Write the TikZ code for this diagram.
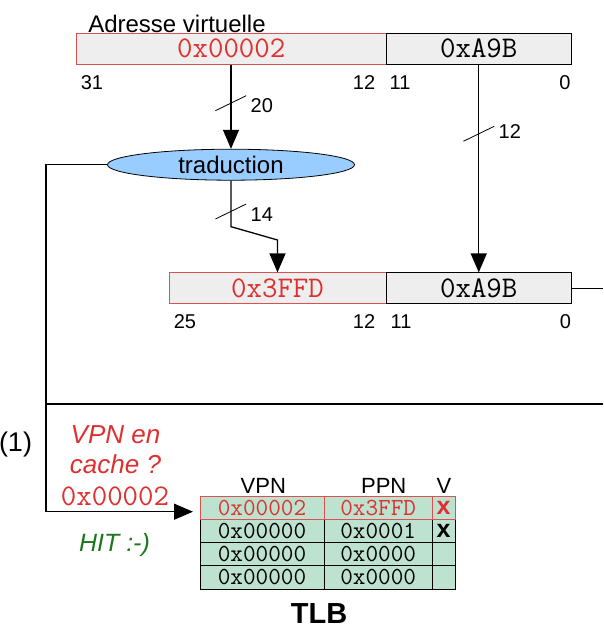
\documentclass[tikz,border=0pt]{standalone}
\usepackage{fontspec}
\setmainfont{Liberation Sans}
\usetikzlibrary{positioning,shapes.geometric,arrows.meta}
\tikzset{>={Triangle[length=19pt,width=16pt]}}

\definecolor{hexred}{RGB}{222,48,48}
\definecolor{boxred}{RGB}{220,80,80}
\definecolor{hitgreen}{RGB}{28,118,28}
\definecolor{fieldgray}{RGB}{238,238,238}
\definecolor{tradblue}{RGB}{153,204,255}
\definecolor{tlbgreen}{RGB}{190,226,208}

\begin{document}
\begin{tikzpicture}[x=1pt,y=-1pt,
  wire/.style={line width=1.3pt},
  slash/.style={line width=0.8pt},
  field/.style={draw,fill=fieldgray,line width=1pt,minimum height=31pt,inner sep=0pt,font=\fontsize{30}{34}\ttfamily},
  bitno/.style={font=\fontsize{20}{24}\selectfont},
  question/.style={text=hexred,font=\fontsize{26}{30}\itshape},
  tlbcell/.style={draw,fill=tlbgreen,line width=1pt,minimum height=23.075pt,inner sep=0pt,font=\fontsize{24.5}{26}\ttfamily},
  head/.style={anchor=base,font=\fontsize{22}{26}\selectfont}]
\useasboundingbox (0,0) rectangle (603,640);

% Virtual address
\node[anchor=base] (title) at (177,32) {\fontsize{24}{28}\selectfont Adresse virtuelle};
\node[field,draw=boxred,text=hexred,minimum width=309.5pt] (vpn) at (231.25,48.8) {0x00002};
\node[field,minimum width=185.5pt] (off) at (478.75,48.8) {0xA9B};
\foreach \x/\t in {92/31,364/12,400/11,565/0}
  \node[bitno] (bv\t) at (\x,82.5) {\t};

% Translation
\node[ellipse,draw,fill=tradblue,minimum width=247pt,minimum height=31pt,inner sep=0pt,line width=0.8pt,font=\fontsize{24}{28}\selectfont] (trad) at (231,164.7) {traduction};

% Physical address
\node[field,draw=boxred,text=hexred,minimum width=217pt] (ppn) at (277.5,288.4) {0x3FFD};
\node[field,minimum width=185.5pt] (poff) at (478.75,288.4) {0xA9B};
\foreach \x/\t in {185/25,364/12,401/11,565.5/0}
  \node[bitno] (bp\t) at (\x,322) {\t};

% Connectors
\coordinate (bend1) at (231,226.7);
\coordinate (bend2) at (277.5,240);
\coordinate (lk) at (46,164.7);
\coordinate (lb) at (46,511.7);
\coordinate (tip) at (193,511.7);
\coordinate (out) at (603,288.4);
\coordinate (sepL) at (46,404);
\coordinate (sepR) at (603,404);

\draw[wire,->] (trad.north |- vpn.south) -- (trad.north);
\draw[wire,->] (off.south) -- (poff.north);
\draw[wire,->] (trad.south) -- (bend1) -- (bend2) -- (ppn.north);
\draw[wire,->] (trad.west) -- (lk) -- (lb) -- (tip);
\draw[wire] (poff.east) -- (out);
\draw[wire] (sepL) -- (sepR);

% Bus widths
\foreach \x/\y/\n/\ly in {230.8/103.2/20/105.5,478.8/133.8/12/132,230.8/211.5/14/214.5}{
  \draw[slash] (\x-15.4,\y+7.5) -- (\x+15.4,\y-7.5);
  \node[bitno] (bus\n) at (\x+31,\ly) {\n};
}

% TLB lookup
\node[anchor=base] (step1) at (15.5,451) {\fontsize{27}{30}\selectfont (1)};
\node[anchor=base,question] (q1) at (115.5,443) {VPN en};
\node[anchor=base,question] (q2) at (115.5,473) {cache ?};
\node[anchor=base,text=hexred,font=\fontsize{30}{34}\ttfamily] (qvpn) at (115,505) {0x00002};
\node[anchor=base,text=hitgreen,font=\fontsize{25}{30}\itshape] (hit) at (114.5,551.5) {HIT :-)};

% TLB table
\node[head] (hvpn) at (263.3,493) {VPN};
\node[head] (hppn) at (383.7,493) {PPN};
\node[head] (hv) at (444,493) {V};
\foreach \r/\a/\b/\c in {2/0x00000/0x0001/x,3/0x00000/0x0000/{},4/0x00000/0x0000/{}}{
  \pgfmathsetmacro\y{496.7+(\r-0.5)*23.075}
  \node[tlbcell,minimum width=124pt] (tv\r) at (262,\y) {\a};
  \node[tlbcell,minimum width=108.3pt] (tp\r) at (378.15,\y) {\b};
  \node[tlbcell,minimum width=22.7pt,font=\fontsize{25}{26}\bfseries] (tf\r) at (443.65,\y) {\c};
}
\node[tlbcell,draw=boxred,text=hexred,minimum width=124pt] (tv1) at (262,508.2) {0x00002};
\node[tlbcell,draw=boxred,text=hexred,minimum width=108.3pt] (tp1) at (378.15,508.2) {0x3FFD};
\node[tlbcell,draw=boxred,text=hexred,minimum width=22.7pt,font=\fontsize{25}{26}\bfseries] (tf1) at (443.65,508.2) {x};
\node[anchor=base,font=\fontsize{29}{34}\bfseries] (tlb) at (319,623.3) {TLB};

\end{tikzpicture}
\end{document}
